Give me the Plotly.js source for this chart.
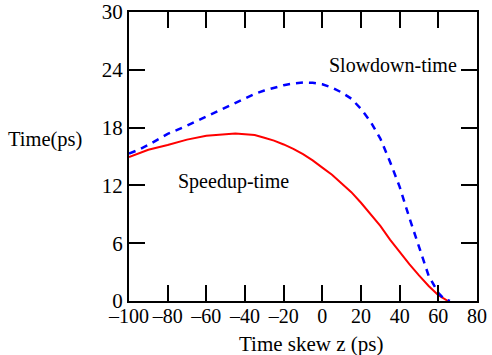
<!DOCTYPE html>
<html>
<head>
<meta charset="utf-8">
<script src="https://cdn.plot.ly/plotly-3.0.1.min.js"></script>
<style>html,body{margin:0;padding:0;background:#fff;}#chart{width:492px;height:355px;}</style>
</head>
<body>
<div id="chart"></div>
<script>
// Speedup-time (red, solid)
const speedupX = [-100, -90, -80, -70, -60, -50, -45, -40, -35, -30, -25, -20, -15, -10, -5, 0, 5, 10, 15, 20, 25, 30, 35, 40, 45, 50, 55, 60, 63, 65];
const speedupY = [14.95, 15.7, 16.2, 16.75, 17.15, 17.35, 17.4, 17.3, 17.22, 16.95, 16.65, 16.25, 15.8, 15.25, 14.6, 13.85, 13.1, 12.2, 11.3, 10.2, 8.95, 7.8, 6.37, 5.03, 3.82, 2.66, 1.56, 0.6, 0.2, 0.0];
// Slowdown-time (blue, dashed)
const slowdownX = [-100, -95, -90, -85, -80, -70, -60, -50, -40, -35, -30, -25, -20, -15, -10, -5, 0, 5, 10, 15, 20, 25, 30, 35, 40, 45, 50, 55, 60, 63, 66];
const slowdownY = [15.3, 15.7, 16.2, 16.75, 17.35, 18.2, 19.16, 20.1, 21.05, 21.5, 21.85, 22.15, 22.4, 22.58, 22.68, 22.65, 22.5, 22.15, 21.65, 21.0, 19.95, 18.6, 16.86, 14.46, 11.85, 8.65, 5.58, 2.61, 0.84, 0.2, 0.0];
const xTicks = [-100, -80, -60, -40, -20, 0, 20, 40, 60, 80];
const xTickText = ["\u2013100", "\u201380", "\u201360", "\u201340", "\u201320", "0", "20", "40", "60", "80"];
const yTicks = [0, 6, 12, 18, 24, 30];
const seriesNames = ["Speedup-time", "Slowdown-time"];
const axisTitles = ["Time skew z (ps)", "Time(ps)"];

const FONT = "Liberation Serif, Times New Roman, serif";

const traces = [
  {x: speedupX, y: speedupY, mode: "lines", name: seriesNames[0],
   line: {color: "#ff0000", width: 2}},
  {x: slowdownX, y: slowdownY, mode: "lines", name: seriesNames[1],
   line: {color: "#0000ff", width: 2.5, dash: "7px,6px"}}
];

const axisCommon = {
  showgrid: false, zeroline: false, showline: true, linecolor: "#000", linewidth: 2,
  mirror: "ticks", ticks: "inside", ticklen: 16, tickwidth: 2, tickcolor: "#000",
  tickfont: {family: FONT, size: 21, color: "#000"}
};

const layout = {
  width: 492, height: 355,
  margin: {l: 128.5, r: 14.7, t: 12, b: 54.3},
  paper_bgcolor: "#fff", plot_bgcolor: "#fff",
  showlegend: false,
  font: {family: FONT, size: 20, color: "#000"},
  xaxis: Object.assign({}, axisCommon, {range: [-100, 80], tickvals: xTicks, ticktext: xTickText,
    tickangle: 0, ticklabelstandoff: -4, tickfont: {family: FONT, size: 20, color: "#000"}}),
  yaxis: Object.assign({}, axisCommon, {range: [0, 30], tickvals: yTicks}),
  annotations: [
    {text: axisTitles[0], xref: "paper", yref: "paper", x: 0.523, y: -0.15,
     xanchor: "center", yanchor: "middle", showarrow: false, font: {family: FONT, size: 21}},
    {text: axisTitles[1], xref: "paper", yref: "paper", x: -0.24, y: 0.56,
     xanchor: "center", yanchor: "middle", showarrow: false, font: {family: FONT, size: 20.5}},
    {text: seriesNames[1], xref: "x", yref: "y", x: 36.8, y: 24.5,
     xanchor: "center", yanchor: "middle", showarrow: false, font: {family: FONT, size: 20}},
    {text: seriesNames[0], xref: "x", yref: "y", x: -45.7, y: 12.4,
     xanchor: "center", yanchor: "middle", showarrow: false, font: {family: FONT, size: 20}}
  ]
};

Plotly.newPlot("chart", traces, layout, {displayModeBar: false, staticPlot: true});
</script>
</body>
</html>
